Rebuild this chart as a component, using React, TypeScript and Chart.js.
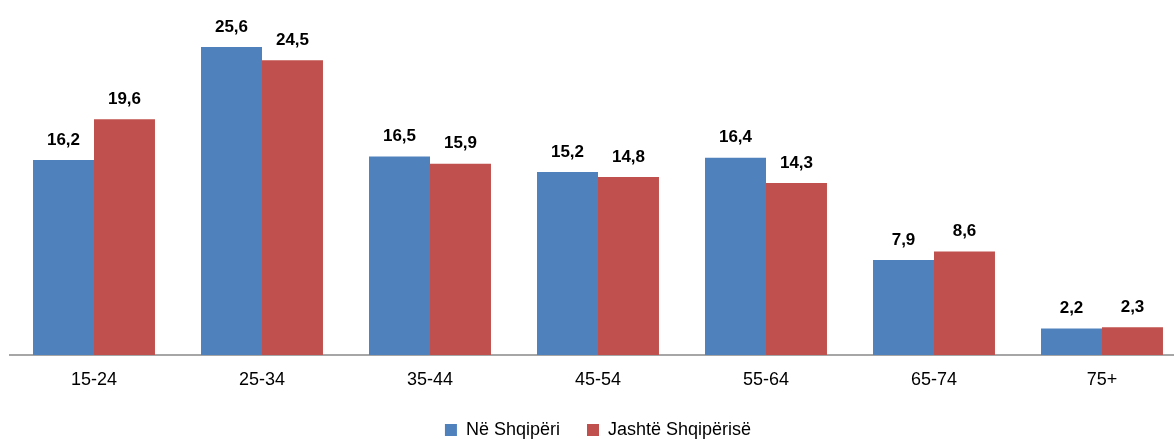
import React, { useEffect, useRef } from "react";
import { Chart, registerables } from "chart.js";

Chart.register(...registerables);

const categories = ["15-24", "25-34", "35-44", "45-54", "55-64", "65-74", "75+"];
const seriesNames = ["Në Shqipëri", "Jashtë Shqipërisë"];
const inAlbania = [16.2, 25.6, 16.5, 15.2, 16.4, 7.9, 2.2];
const abroad = [19.6, 24.5, 15.9, 14.8, 14.3, 8.6, 2.3];
const colors = ["#4F81BD", "#C0504D"];

const FONT = "'Liberation Sans', Arial, sans-serif";

const valueLabels = {
  id: "valueLabels",
  afterDatasetsDraw(chart: any) {
    const ctx = chart.ctx;
    ctx.save();
    ctx.font = `bold 17px ${FONT}`;
    ctx.fillStyle = "#000";
    ctx.textAlign = "center";
    ctx.textBaseline = "middle";
    chart.data.datasets.forEach((ds: any, i: number) => {
      const meta = chart.getDatasetMeta(i);
      meta.data.forEach((el: any, j: number) => {
        const v = ds.data[j];
        ctx.fillText(v.toFixed(1).replace(".", ","), el.x, el.y - 20);
      });
    });
    ctx.restore();
  },
};

export default function App() {
  const ref = useRef<HTMLCanvasElement | null>(null);
  useEffect(() => {
    if (!ref.current) return;
    const chart = new Chart(ref.current, {
      type: "bar",
      data: {
        labels: categories,
        datasets: [
          { label: seriesNames[0], data: inAlbania, backgroundColor: colors[0], categoryPercentage: 0.726, barPercentage: 1 },
          { label: seriesNames[1], data: abroad, backgroundColor: colors[1], categoryPercentage: 0.726, barPercentage: 1 },
        ],
      },
      options: {
        responsive: false,
        animation: false,
        layout: { padding: { left: 2, right: 5, top: 0, bottom: 0 } },
        plugins: {
          legend: {
            position: "bottom",
            labels: {
              boxWidth: 12,
              boxHeight: 12,
              padding: 27,
              color: "#000",
              font: { family: FONT, size: 18 },
            },
          },
          tooltip: { enabled: false },
        },
        scales: {
          x: {
            grid: { display: false, drawTicks: false },
            border: { display: true, color: "#a6a6a6", width: 2 },
            ticks: { color: "#000", padding: 14, font: { family: FONT, size: 18 } },
            afterFit: (scale: any) => {
              scale.height = 39;
            },
          },
          y: {
            display: false,
            min: 0,
            max: 28.84,
          },
        },
      },
      plugins: [valueLabels],
    });
    return () => chart.destroy();
  }, []);
  return (
    <div style={{ position: "fixed", left: 0, top: 0, width: 1174, height: 440, overflow: "hidden", background: "#fff" }}>
      <canvas ref={ref} width={1183} height={441} style={{ position: "absolute", left: 8, top: 8, width: 1183, height: 441 }} />
    </div>
  );
}
